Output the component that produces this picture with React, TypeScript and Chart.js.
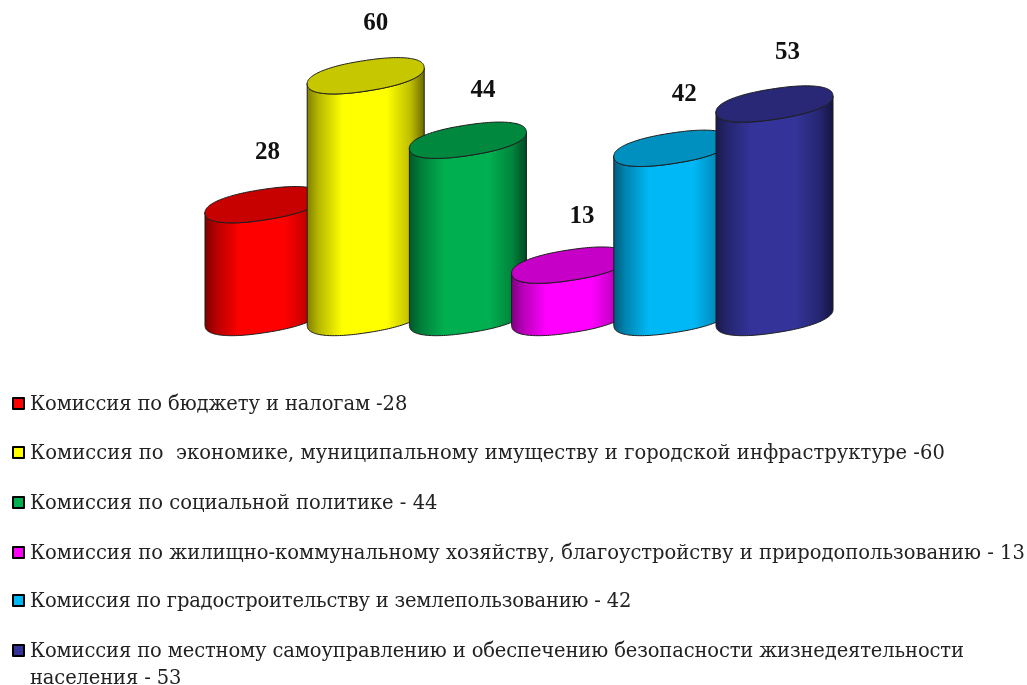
import React, { useEffect, useRef } from "react";
import { Chart, registerables } from "chart.js";

Chart.register(...registerables);

const categories = [
  "Комиссия по бюджету и налогам -28",
  "Комиссия по  экономике, муниципальному имуществу и городской инфраструктуре -60",
  "Комиссия по социальной политике - 44",
  "Комиссия по жилищно-коммунальному хозяйству, благоустройству и природопользованию - 13",
  "Комиссия по градостроительству и землепользованию - 42",
  "Комиссия по местному самоуправлению и обеспечению безопасности жизнедеятельности населения - 53",
];
const values = [28, 60, 44, 13, 42, 53];
const colors = ["#ff0000", "#ffff00", "#00b050", "#ff00ff", "#00b8f5", "#333399"];
const legendTops = [390, 439, 489, 539, 587, 637];
const legendSpacing = [-0.1, 0.05, 0, 0, -0.2, -0.13];
const labelShiftX = [4, 10, 15, 12, 12, 13];
const labelShiftY = [-52, -52, -50, -49, -54, -51];

const shade = (hex: string, k: number) => {
  const n = parseInt(hex.slice(1), 16);
  const c = [(n >> 16) & 255, (n >> 8) & 255, n & 255].map((v) => Math.round(v * k));
  return `rgb(${c[0]},${c[1]},${c[2]})`;
};

// Outline of a cylinder cap: a tilted, slightly squared ellipse, as offsets from its centre.
const capOutline = (w: number) => {
  const theta = (-8.8 * Math.PI) / 180;
  const p = 0.88;
  const a = w * 0.506;
  const b = w * 0.13;
  const pow = (v: number) => Math.sign(v) * Math.pow(Math.abs(v), p);
  const pts: number[][] = [];
  for (let i = 0; i < 180; i++) {
    const t = (i / 180) * Math.PI * 2;
    const ex = a * pow(Math.cos(t));
    const ey = b * pow(Math.sin(t));
    pts.push([ex * Math.cos(theta) - ey * Math.sin(theta), ex * Math.sin(theta) + ey * Math.cos(theta)]);
  }
  const maxX = Math.max(...pts.map((q) => q[0]));
  const scale = w / 2 / maxX;
  const sc = pts.map((q) => [q[0] * scale, q[1]]);
  const r = sc.findIndex((q) => q[0] === Math.max(...sc.map((m) => m[0])));
  const l = sc.findIndex((q) => q[0] === Math.min(...sc.map((m) => m[0])));
  const front: number[][] = []; // from right extreme through the lower side to the left extreme
  for (let i = r; ; i = (i + 1) % sc.length) {
    front.push(sc[i]);
    if (i === l) break;
  }
  return { all: sc, front };
};

const cylinderPlugin = {
  id: "cylinders",
  beforeDatasetDraw(chart: any, args: any) {
    const ctx = chart.ctx;
    args.meta.data.forEach((el: any) => {
      const { x, y, base, width } = el.getProps(["x", "y", "base", "width"], true);
      const col = el.options.backgroundColor as string;
      const { all, front } = capOutline(width);
      const g = ctx.createLinearGradient(x - width / 2, 0, x + width / 2, 0);
      g.addColorStop(0, shade(col, 0.5));
      g.addColorStop(0.1, shade(col, 0.72));
      g.addColorStop(0.3, col);
      g.addColorStop(0.68, col);
      g.addColorStop(0.88, shade(col, 0.75));
      g.addColorStop(1, shade(col, 0.42));
      ctx.save();
      ctx.lineWidth = 1;
      ctx.strokeStyle = "#1c1c1c";
      ctx.lineJoin = "round";
      ctx.beginPath();
      front.forEach((q, i) => (i === 0 ? ctx.moveTo(x + q[0], y + q[1]) : ctx.lineTo(x + q[0], y + q[1])));
      [...front].reverse().forEach((q) => ctx.lineTo(x + q[0], base + q[1]));
      ctx.closePath();
      ctx.fillStyle = g;
      ctx.fill();
      ctx.stroke();
      ctx.beginPath();
      all.forEach((q, i) => (i === 0 ? ctx.moveTo(x + q[0], y + q[1]) : ctx.lineTo(x + q[0], y + q[1])));
      ctx.closePath();
      ctx.fillStyle = shade(col, 0.78);
      ctx.fill();
      ctx.stroke();
      ctx.restore();
    });
    return false;
  },
  afterDatasetsDraw(chart: any) {
    const ctx = chart.ctx;
    const meta = chart.getDatasetMeta(0);
    ctx.save();
    ctx.font = 'bold 25px "Liberation Serif"';
    ctx.fillStyle = "#111";
    ctx.textAlign = "center";
    ctx.textBaseline = "middle";
    meta.data.forEach((el: any, i: number) => {
      ctx.fillText(String(values[i]), el.x + labelShiftX[i], el.y + labelShiftY[i]);
    });
    ctx.restore();
  },
};

export default function App() {
  const ref = useRef<HTMLCanvasElement>(null);
  useEffect(() => {
    const chart = new Chart(ref.current!, {
      type: "bar",
      data: {
        labels: categories,
        datasets: [
          {
            data: values,
            backgroundColor: colors,
            barPercentage: 1.145,
            categoryPercentage: 1,
          },
        ],
      },
      options: {
        responsive: false,
        animation: false,
        layout: { padding: { left: 212.4, right: 201.4, top: 35.5, bottom: 367.5 } },
        plugins: { legend: { display: false }, tooltip: { enabled: false } },
        scales: {
          x: { display: false, offset: true },
          y: { display: false, min: 0, max: 70 },
        },
      },
      plugins: [cylinderPlugin],
    } as any);
    return () => chart.destroy();
  }, []);
  return (
    <div style={{ position: "absolute", left: 0, top: 0, width: 1027, height: 685, background: "#fff", overflow: "hidden" }}>
      <canvas ref={ref} width={1027} height={685} style={{ position: "absolute", left: 0, top: 0, width: 1027, height: 685 }} />
      {categories.map((c, i) => (
        <div key={i}>
          <span
            style={{
              position: "absolute",
              left: 12,
              top: legendTops[i] + 7,
              width: 9,
              height: 9,
              border: "2px solid #000",
              background: colors[i],
              borderRadius: 1,
            }}
          />
          <div
            style={{
              position: "absolute",
              left: 30,
              top: legendTops[i],
              width: 1020,
              fontFamily: '"DejaVu Serif", serif',
              fontSize: 19.5,
              letterSpacing: legendSpacing[i],
              lineHeight: "27px",
              color: "#222",
              whiteSpace: "pre-wrap",
            }}
          >
            {c}
          </div>
        </div>
      ))}
    </div>
  );
}
